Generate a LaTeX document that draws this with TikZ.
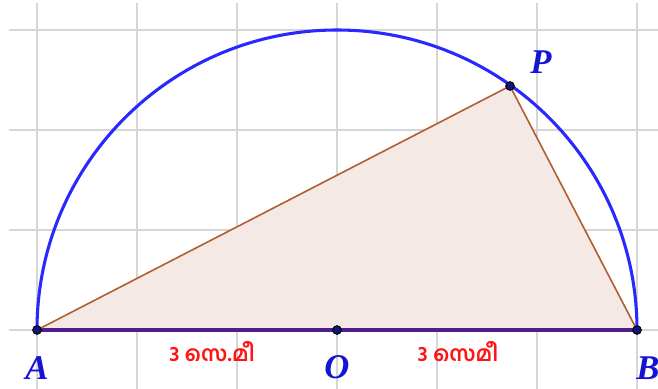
\documentclass[tikz,border=0pt]{standalone}
\usepackage{fontspec}
\newfontfamily\mal[Script=Malayalam]{Hind Kochi}
\newfontfamily\lblfont{Liberation Serif}
\definecolor{gridc}{RGB}{214,214,214}
\definecolor{circc}{RGB}{40,40,255}
\definecolor{trifill}{RGB}{244,233,228}
\definecolor{triedge}{RGB}{176,96,48}
\definecolor{basec}{RGB}{80,30,140}
\definecolor{ptc}{RGB}{20,20,120}
\definecolor{lblc}{RGB}{20,20,210}
\definecolor{redc}{RGB}{255,20,20}
\tikzset{
  gridline/.style={draw=gridc, line width=1.4pt},
  pt/.style={circle, fill=ptc, draw=black, line width=0.7pt, inner sep=0pt, minimum size=6.5pt},
  lbl/.style={text=lblc, font=\lblfont\bfseries\itshape\fontsize{26}{26}\selectfont, inner sep=0pt},
  meas/.style={text=redc, font=\mal\bfseries\fontsize{16}{16}\selectfont, inner sep=0pt}
}
\begin{document}
\begin{tikzpicture}[x=0.75pt,y=-0.75pt]
\useasboundingbox (0,0) rectangle (658,389);
\fill[white] (0,0) rectangle (658,389);
% grid
\foreach \gx in {37,137,237,337,437,537,637}
  \draw[gridline] (\gx,3) -- (\gx,389);
\foreach \gy in {30,130,230,330}
  \draw[gridline] (9,\gy) -- (658,\gy);
% points
\coordinate (A) at (37,330);
\coordinate (B) at (637,330);
\coordinate (O) at (337,330);
\coordinate (P) at (510,86);
% triangle fill
\fill[trifill] (A) -- (P) -- (B) -- cycle;
% semicircle
\draw[circc, line width=2.3pt] (A) arc[start angle=180, end angle=360, radius=300];
% base
\draw[basec, line width=2.3pt] (A) -- (B);
% triangle edges
\draw[triedge, line width=1.2pt] (A) -- (P) -- (B);
% dots
\node[pt] (a) at (A) {};
\node[pt] (b) at (B) {};
\node[pt] (o) at (O) {};
\node[pt] (p) at (P) {};
% labels
\node[lbl] (la) at (37,368) {A};
\node[lbl] (lb) at (648,368) {B};
\node[lbl] (lo) at (337,367) {O};
\node[lbl] (lp) at (541,62) {P};
\node[meas] (m1) at (212,352) {3 സെ.മീ};
\node[meas] (m2) at (458,352) {3 സെമീ};
\end{tikzpicture}
\end{document}
